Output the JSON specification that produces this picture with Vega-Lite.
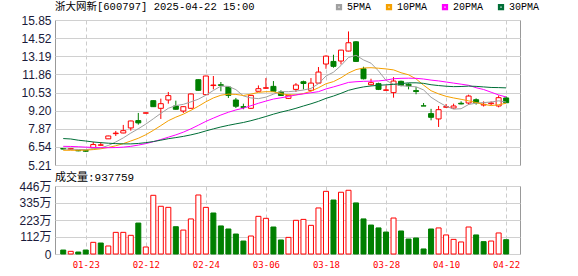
{
  "$schema": "https://vega.github.io/schema/vega-lite/v6.json",
  "background": "white",
  "padding": {"left": 18, "top": 1, "right": 50, "bottom": 4},
  "config": {
    "view": {"stroke": "#999999", "strokeWidth": 1},
    "axis": {"labelFont": "Liberation Sans", "labelFontSize": 12, "labelColor": "#1a1a3a", "gridColor": "#d0d0d0", "gridWidth": 1, "labelOverlap": false}
  },
  "data": {"values": [
    {"i":0,"d":"01-20","o":6.42,"h":6.45,"l":6.34,"c":6.38,"pc":6.45,"v":26,"5PMA":6.38,"10PMA":6.29,"20PMA":6.58,"30PMA":7.15},
    {"i":1,"d":"01-21","o":6.36,"h":6.46,"l":6.33,"c":6.42,"pc":6.38,"v":17.5,"5PMA":6.37,"10PMA":6.29,"20PMA":6.57,"30PMA":7.12},
    {"i":2,"d":"01-22","o":6.28,"h":6.30,"l":6.22,"c":6.25,"pc":6.42,"v":13,"5PMA":6.35,"10PMA":6.29,"20PMA":6.55,"30PMA":7.03},
    {"i":3,"d":"01-23","o":6.27,"h":6.32,"l":6.18,"c":6.22,"pc":6.25,"v":26,"5PMA":6.34,"10PMA":6.30,"20PMA":6.52,"30PMA":6.97},
    {"i":4,"d":"01-24","o":6.47,"h":6.91,"l":6.45,"c":6.71,"pc":6.22,"v":76.5,"5PMA":6.40,"10PMA":6.34,"20PMA":6.50,"30PMA":6.90},
    {"i":5,"d":"01-27","o":6.66,"h":6.88,"l":6.64,"c":6.69,"pc":6.71,"v":72,"5PMA":6.46,"10PMA":6.40,"20PMA":6.48,"30PMA":6.85},
    {"i":6,"d":"02-05","o":7.13,"h":7.36,"l":7.12,"c":7.34,"pc":6.69,"v":52.5,"5PMA":6.64,"10PMA":6.50,"20PMA":6.48,"30PMA":6.81},
    {"i":7,"d":"02-06","o":7.51,"h":7.71,"l":7.34,"c":7.55,"pc":7.34,"v":142,"5PMA":6.90,"10PMA":6.62,"20PMA":6.49,"30PMA":6.78},
    {"i":8,"d":"02-07","o":7.56,"h":8.15,"l":7.54,"c":7.73,"pc":7.55,"v":142,"5PMA":7.20,"10PMA":6.78,"20PMA":6.52,"30PMA":6.76},
    {"i":9,"d":"02-10","o":7.93,"h":8.46,"l":7.73,"c":8.44,"pc":7.73,"v":122.5,"5PMA":7.55,"10PMA":6.97,"20PMA":6.58,"30PMA":6.76},
    {"i":10,"d":"02-11","o":8.47,"h":9.03,"l":8.17,"c":8.30,"pc":8.44,"v":203,"5PMA":7.87,"10PMA":7.17,"20PMA":6.67,"30PMA":6.79},
    {"i":11,"d":"02-12","o":9.01,"h":9.05,"l":9.00,"c":9.04,"pc":8.30,"v":46,"5PMA":8.21,"10PMA":7.43,"20PMA":6.78,"30PMA":6.85},
    {"i":12,"d":"02-13","o":9.93,"h":9.95,"l":9.47,"c":9.49,"pc":9.04,"v":385,"5PMA":8.60,"10PMA":7.75,"20PMA":6.92,"30PMA":6.93},
    {"i":13,"d":"02-14","o":9.37,"h":10.08,"l":8.59,"c":9.71,"pc":9.49,"v":313,"5PMA":9.00,"10PMA":8.10,"20PMA":7.08,"30PMA":7.03},
    {"i":14,"d":"02-17","o":9.98,"h":10.57,"l":9.71,"c":10.30,"pc":9.71,"v":306,"5PMA":9.37,"10PMA":8.46,"20PMA":7.25,"30PMA":7.14},
    {"i":15,"d":"02-18","o":9.54,"h":9.93,"l":9.28,"c":9.30,"pc":10.30,"v":179,"5PMA":9.57,"10PMA":8.72,"20PMA":7.42,"30PMA":7.22},
    {"i":16,"d":"02-19","o":9.17,"h":9.52,"l":9.03,"c":9.49,"pc":9.30,"v":157,"5PMA":9.66,"10PMA":8.94,"20PMA":7.62,"30PMA":7.31},
    {"i":17,"d":"02-20","o":9.37,"h":10.45,"l":9.35,"c":10.42,"pc":9.49,"v":230,"5PMA":9.84,"10PMA":9.22,"20PMA":7.86,"30PMA":7.42},
    {"i":18,"d":"02-21","o":11.47,"h":11.49,"l":10.67,"c":10.69,"pc":10.42,"v":387,"5PMA":10.04,"10PMA":9.52,"20PMA":8.13,"30PMA":7.55},
    {"i":19,"d":"02-24","o":10.37,"h":11.76,"l":10.35,"c":11.74,"pc":10.69,"v":306,"5PMA":10.33,"10PMA":9.85,"20PMA":8.41,"30PMA":7.71},
    {"i":20,"d":"02-25","o":11.04,"h":11.74,"l":10.76,"c":11.08,"pc":11.74,"v":269,"5PMA":10.68,"10PMA":10.13,"20PMA":8.65,"30PMA":7.86},
    {"i":21,"d":"02-26","o":11.10,"h":11.30,"l":10.62,"c":11.05,"pc":11.08,"v":184,"5PMA":11.00,"10PMA":10.33,"20PMA":8.88,"30PMA":8.00},
    {"i":22,"d":"02-27","o":10.93,"h":10.95,"l":10.13,"c":10.32,"pc":11.05,"v":164,"5PMA":10.98,"10PMA":10.41,"20PMA":9.08,"30PMA":8.12},
    {"i":23,"d":"02-28","o":9.98,"h":10.13,"l":9.39,"c":9.52,"pc":10.32,"v":131,"5PMA":10.74,"10PMA":10.39,"20PMA":9.25,"30PMA":8.23},
    {"i":24,"d":"03-03","o":9.49,"h":9.71,"l":9.30,"c":9.44,"pc":9.52,"v":85,"5PMA":10.28,"10PMA":10.31,"20PMA":9.38,"30PMA":8.33},
    {"i":25,"d":"03-04","o":9.37,"h":10.34,"l":9.32,"c":10.32,"pc":9.44,"v":118,"5PMA":10.13,"10PMA":10.41,"20PMA":9.56,"30PMA":8.46},
    {"i":26,"d":"03-05","o":10.62,"h":11.05,"l":10.60,"c":10.81,"pc":10.32,"v":247,"5PMA":10.08,"10PMA":10.54,"20PMA":9.74,"30PMA":8.61},
    {"i":27,"d":"03-06","o":10.84,"h":11.59,"l":10.80,"c":10.88,"pc":10.81,"v":234,"5PMA":10.19,"10PMA":10.59,"20PMA":9.90,"30PMA":8.77},
    {"i":28,"d":"03-07","o":10.98,"h":11.37,"l":10.60,"c":10.62,"pc":10.88,"v":177,"5PMA":10.41,"10PMA":10.58,"20PMA":10.05,"30PMA":8.94},
    {"i":29,"d":"03-10","o":10.57,"h":10.69,"l":10.28,"c":10.31,"pc":10.62,"v":92,"5PMA":10.59,"10PMA":10.44,"20PMA":10.14,"30PMA":9.09},
    {"i":30,"d":"03-11","o":10.10,"h":10.35,"l":10.05,"c":10.33,"pc":10.31,"v":109,"5PMA":10.59,"10PMA":10.36,"20PMA":10.24,"30PMA":9.22},
    {"i":31,"d":"03-12","o":10.76,"h":11.22,"l":10.57,"c":11.08,"pc":10.33,"v":221,"5PMA":10.64,"10PMA":10.36,"20PMA":10.35,"30PMA":9.37},
    {"i":32,"d":"03-13","o":11.32,"h":11.40,"l":10.76,"c":11.19,"pc":11.08,"v":227,"5PMA":10.71,"10PMA":10.45,"20PMA":10.43,"30PMA":9.54},
    {"i":33,"d":"03-14","o":10.69,"h":11.59,"l":10.67,"c":11.22,"pc":11.19,"v":188,"5PMA":10.83,"10PMA":10.62,"20PMA":10.51,"30PMA":9.70},
    {"i":34,"d":"03-17","o":11.22,"h":12.40,"l":11.20,"c":12.03,"pc":11.22,"v":302,"5PMA":11.17,"10PMA":10.88,"20PMA":10.59,"30PMA":9.88},
    {"i":35,"d":"03-18","o":12.62,"h":13.25,"l":12.27,"c":13.20,"pc":12.03,"v":411,"5PMA":11.74,"10PMA":11.17,"20PMA":10.79,"30PMA":10.10},
    {"i":36,"d":"03-19","o":12.81,"h":13.30,"l":12.35,"c":12.45,"pc":13.20,"v":354,"5PMA":12.02,"10PMA":11.33,"20PMA":10.94,"30PMA":10.27},
    {"i":37,"d":"03-20","o":12.84,"h":13.66,"l":12.59,"c":13.64,"pc":12.45,"v":405,"5PMA":12.51,"10PMA":11.61,"20PMA":11.10,"30PMA":10.47},
    {"i":38,"d":"03-21","o":13.57,"h":15.01,"l":13.55,"c":14.18,"pc":13.64,"v":418,"5PMA":13.10,"10PMA":11.96,"20PMA":11.27,"30PMA":10.69},
    {"i":39,"d":"03-24","o":14.25,"h":14.30,"l":12.78,"c":12.81,"pc":14.18,"v":335,"5PMA":13.26,"10PMA":12.21,"20PMA":11.32,"30PMA":10.83},
    {"i":40,"d":"03-25","o":12.27,"h":12.42,"l":11.49,"c":11.54,"pc":12.81,"v":230,"5PMA":12.92,"10PMA":12.33,"20PMA":11.35,"30PMA":10.94},
    {"i":41,"d":"03-26","o":11.10,"h":11.54,"l":11.05,"c":11.25,"pc":11.54,"v":190,"5PMA":12.68,"10PMA":12.35,"20PMA":11.36,"30PMA":11.01},
    {"i":42,"d":"03-27","o":11.18,"h":11.25,"l":10.71,"c":10.76,"pc":11.25,"v":171,"5PMA":12.11,"10PMA":12.31,"20PMA":11.38,"30PMA":11.06},
    {"i":43,"d":"03-28","o":10.69,"h":11.05,"l":10.67,"c":10.72,"pc":10.76,"v":144,"5PMA":11.42,"10PMA":12.26,"20PMA":11.44,"30PMA":11.09},
    {"i":44,"d":"03-31","o":10.52,"h":11.66,"l":10.15,"c":11.37,"pc":10.72,"v":236,"5PMA":11.13,"10PMA":12.19,"20PMA":11.54,"30PMA":11.13},
    {"i":45,"d":"04-01","o":11.35,"h":11.40,"l":10.98,"c":11.05,"pc":11.37,"v":151,"5PMA":11.03,"10PMA":11.98,"20PMA":11.57,"30PMA":11.18},
    {"i":46,"d":"04-02","o":11.14,"h":11.20,"l":10.76,"c":11.02,"pc":11.05,"v":98,"5PMA":10.98,"10PMA":11.83,"20PMA":11.58,"30PMA":11.24},
    {"i":47,"d":"04-03","o":10.67,"h":10.93,"l":10.40,"c":10.60,"pc":11.02,"v":105,"5PMA":10.95,"10PMA":11.53,"20PMA":11.57,"30PMA":11.24},
    {"i":48,"d":"04-07","o":9.55,"h":9.76,"l":9.54,"c":9.54,"pc":10.60,"v":33,"5PMA":10.72,"10PMA":11.07,"20PMA":11.52,"30PMA":11.20},
    {"i":49,"d":"04-08","o":8.98,"h":9.33,"l":8.49,"c":8.71,"pc":9.54,"v":164,"5PMA":10.18,"10PMA":10.66,"20PMA":11.44,"30PMA":11.10},
    {"i":50,"d":"04-09","o":8.59,"h":9.54,"l":8.00,"c":9.27,"pc":8.71,"v":171,"5PMA":9.83,"10PMA":10.43,"20PMA":11.38,"30PMA":11.04},
    {"i":51,"d":"04-10","o":9.45,"h":9.69,"l":9.40,"c":9.49,"pc":9.27,"v":125,"5PMA":9.52,"10PMA":10.25,"20PMA":11.30,"30PMA":10.99},
    {"i":52,"d":"04-11","o":9.39,"h":9.71,"l":9.35,"c":9.54,"pc":9.49,"v":96,"5PMA":9.31,"10PMA":10.13,"20PMA":11.22,"30PMA":10.96},
    {"i":53,"d":"04-14","o":9.74,"h":9.88,"l":9.66,"c":9.69,"pc":9.54,"v":79,"5PMA":9.34,"10PMA":10.03,"20PMA":11.14,"30PMA":10.97},
    {"i":54,"d":"04-15","o":9.76,"h":10.37,"l":9.64,"c":10.27,"pc":9.69,"v":177,"5PMA":9.65,"10PMA":9.92,"20PMA":11.06,"30PMA":11.00},
    {"i":55,"d":"04-16","o":10.00,"h":10.10,"l":9.64,"c":9.78,"pc":10.27,"v":125,"5PMA":9.75,"10PMA":9.79,"20PMA":10.88,"30PMA":10.98},
    {"i":56,"d":"04-17","o":9.61,"h":9.88,"l":9.50,"c":9.66,"pc":9.78,"v":81,"5PMA":9.79,"10PMA":9.66,"20PMA":10.75,"30PMA":10.94},
    {"i":57,"d":"04-18","o":9.71,"h":9.88,"l":9.61,"c":9.76,"pc":9.66,"v":85,"5PMA":9.83,"10PMA":9.57,"20PMA":10.55,"30PMA":10.90},
    {"i":58,"d":"04-21","o":9.54,"h":10.32,"l":9.44,"c":10.15,"pc":9.76,"v":138,"5PMA":9.92,"10PMA":9.63,"20PMA":10.35,"30PMA":10.89},
    {"i":59,"d":"04-22","o":10.13,"h":10.25,"l":9.76,"c":9.78,"pc":10.15,"v":93.78,"5PMA":9.83,"10PMA":9.74,"20PMA":10.20,"30PMA":10.87}
  ]},
  "bounds": "flush",
  "spacing": 21,
  "vconcat": [
    {
      "width": 465,
      "height": 145,
      "title": {"text": "浙大网新[600797] 2025-04-22 15:00", "anchor": "start", "frame": "group", "font": "Liberation Mono, Noto Sans CJK SC", "fontSize": 10.5, "fontWeight": "normal", "color": "#000000", "offset": 2},
      "encoding": {
        "x": {"field": "i", "type": "quantitative", "scale": {"domain": [-0.43, 60.18], "nice": false, "zero": false},
              "axis": {"values": [3, 11, 19, 27, 35, 43, 51, 59], "tickCount": 8, "labels": false, "ticks": false, "domain": false, "title": null, "grid": true, "gridDash": [4, 3], "gridColor": "#cccccc"}}
      },
      "layer": [
        {
          "mark": {"type": "rule", "strokeWidth": 1},
          "encoding": {
            "y": {"field": "l", "type": "quantitative", "scale": {"domain": [5.21, 15.85], "nice": false, "zero": false},
                  "axis": {"values": [5.21, 6.54, 7.87, 9.2, 10.53, 11.86, 13.19, 14.52, 15.85], "tickCount": 9, "format": ".2f", "title": null, "ticks": false, "domain": false, "labelPadding": 4, "grid": true, "labelOverlap": false}},
            "y2": {"field": "h"},
            "color": {"condition": {"test": "datum.c >= datum.o", "value": "#ff0000"}, "value": "#007f00"}
          }
        },
        {
          "mark": {"type": "bar", "width": 5, "strokeWidth": 1},
          "encoding": {
            "y": {"field": "o", "type": "quantitative", "scale": {"domain": [5.21, 15.85], "nice": false, "zero": false}},
            "y2": {"field": "c"},
            "fill": {"condition": {"test": "datum.c >= datum.o", "value": "#ffffff"}, "value": "#007f00"},
            "stroke": {"condition": {"test": "datum.c >= datum.o", "value": "#ff0000"}, "value": "#007f00"}
          }
        },
        {
          "transform": [{"fold": ["5PMA", "10PMA", "20PMA", "30PMA"], "as": ["ma", "mv"]}],
          "mark": {"type": "line", "strokeWidth": 1},
          "encoding": {
            "y": {"field": "mv", "type": "quantitative", "scale": {"domain": [5.21, 15.85], "nice": false, "zero": false}},
            "color": {"field": "ma", "type": "nominal",
                      "scale": {"domain": ["5PMA", "10PMA", "20PMA", "30PMA"], "range": ["#a0a0a0", "#f5a000", "#ff00ff", "#006e37"]},
                      "legend": {"orient": "none", "legendX": 279, "legendY": -18, "direction": "horizontal", "title": null, "symbolType": "square", "symbolSize": 14, "symbolStrokeWidth": 2.5, "labelFont": "Liberation Mono", "labelFontSize": 10, "labelColor": "#000000", "labelOffset": 3, "columnPadding": 10}}
          }
        }
      ]
    },
    {
      "width": 465,
      "height": 68,
      "title": {"text": "成交量:937759", "anchor": "start", "frame": "group", "font": "Liberation Mono, Noto Sans CJK SC", "fontSize": 11, "fontWeight": "normal", "color": "#000000", "offset": -3},
      "mark": {"type": "bar", "width": 5, "strokeWidth": 1},
      "encoding": {
        "x": {"field": "i", "type": "quantitative", "scale": {"domain": [-0.43, 60.18], "nice": false, "zero": false},
              "axis": {"values": [3, 11, 19, 27, 35, 43, 51, 59], "tickCount": 8, "labelExpr": "['01-23','02-12','02-24','03-06','03-18','03-28','04-10','04-22'][(datum.value-3)/8]", "labelFlush": false, "labelOverlap": false, "ticks": false, "domain": false, "title": null, "grid": true, "gridDash": [4, 3], "gridColor": "#cccccc", "labelColor": "#ff0000", "labelFont": "DejaVu Sans Mono", "labelFontSize": 9, "labelPadding": 6}},
        "y": {"field": "v", "type": "quantitative", "scale": {"domain": [0, 446], "nice": false, "zero": true},
              "axis": {"values": [0, 112, 223, 335, 446], "tickCount": 5, "labelExpr": "datum.value == 0 ? '0' : datum.value + '万'", "title": null, "ticks": false, "domain": false, "labelPadding": 4, "grid": true, "labelOverlap": false, "labelFont": "Liberation Sans, Noto Sans CJK SC"}},
        "fill": {"condition": {"test": "datum.c >= datum.pc", "value": "#ffffff"}, "value": "#007f00"},
        "stroke": {"condition": {"test": "datum.c >= datum.pc", "value": "#ff0000"}, "value": "#007f00"}
      }
    }
  ]
}
